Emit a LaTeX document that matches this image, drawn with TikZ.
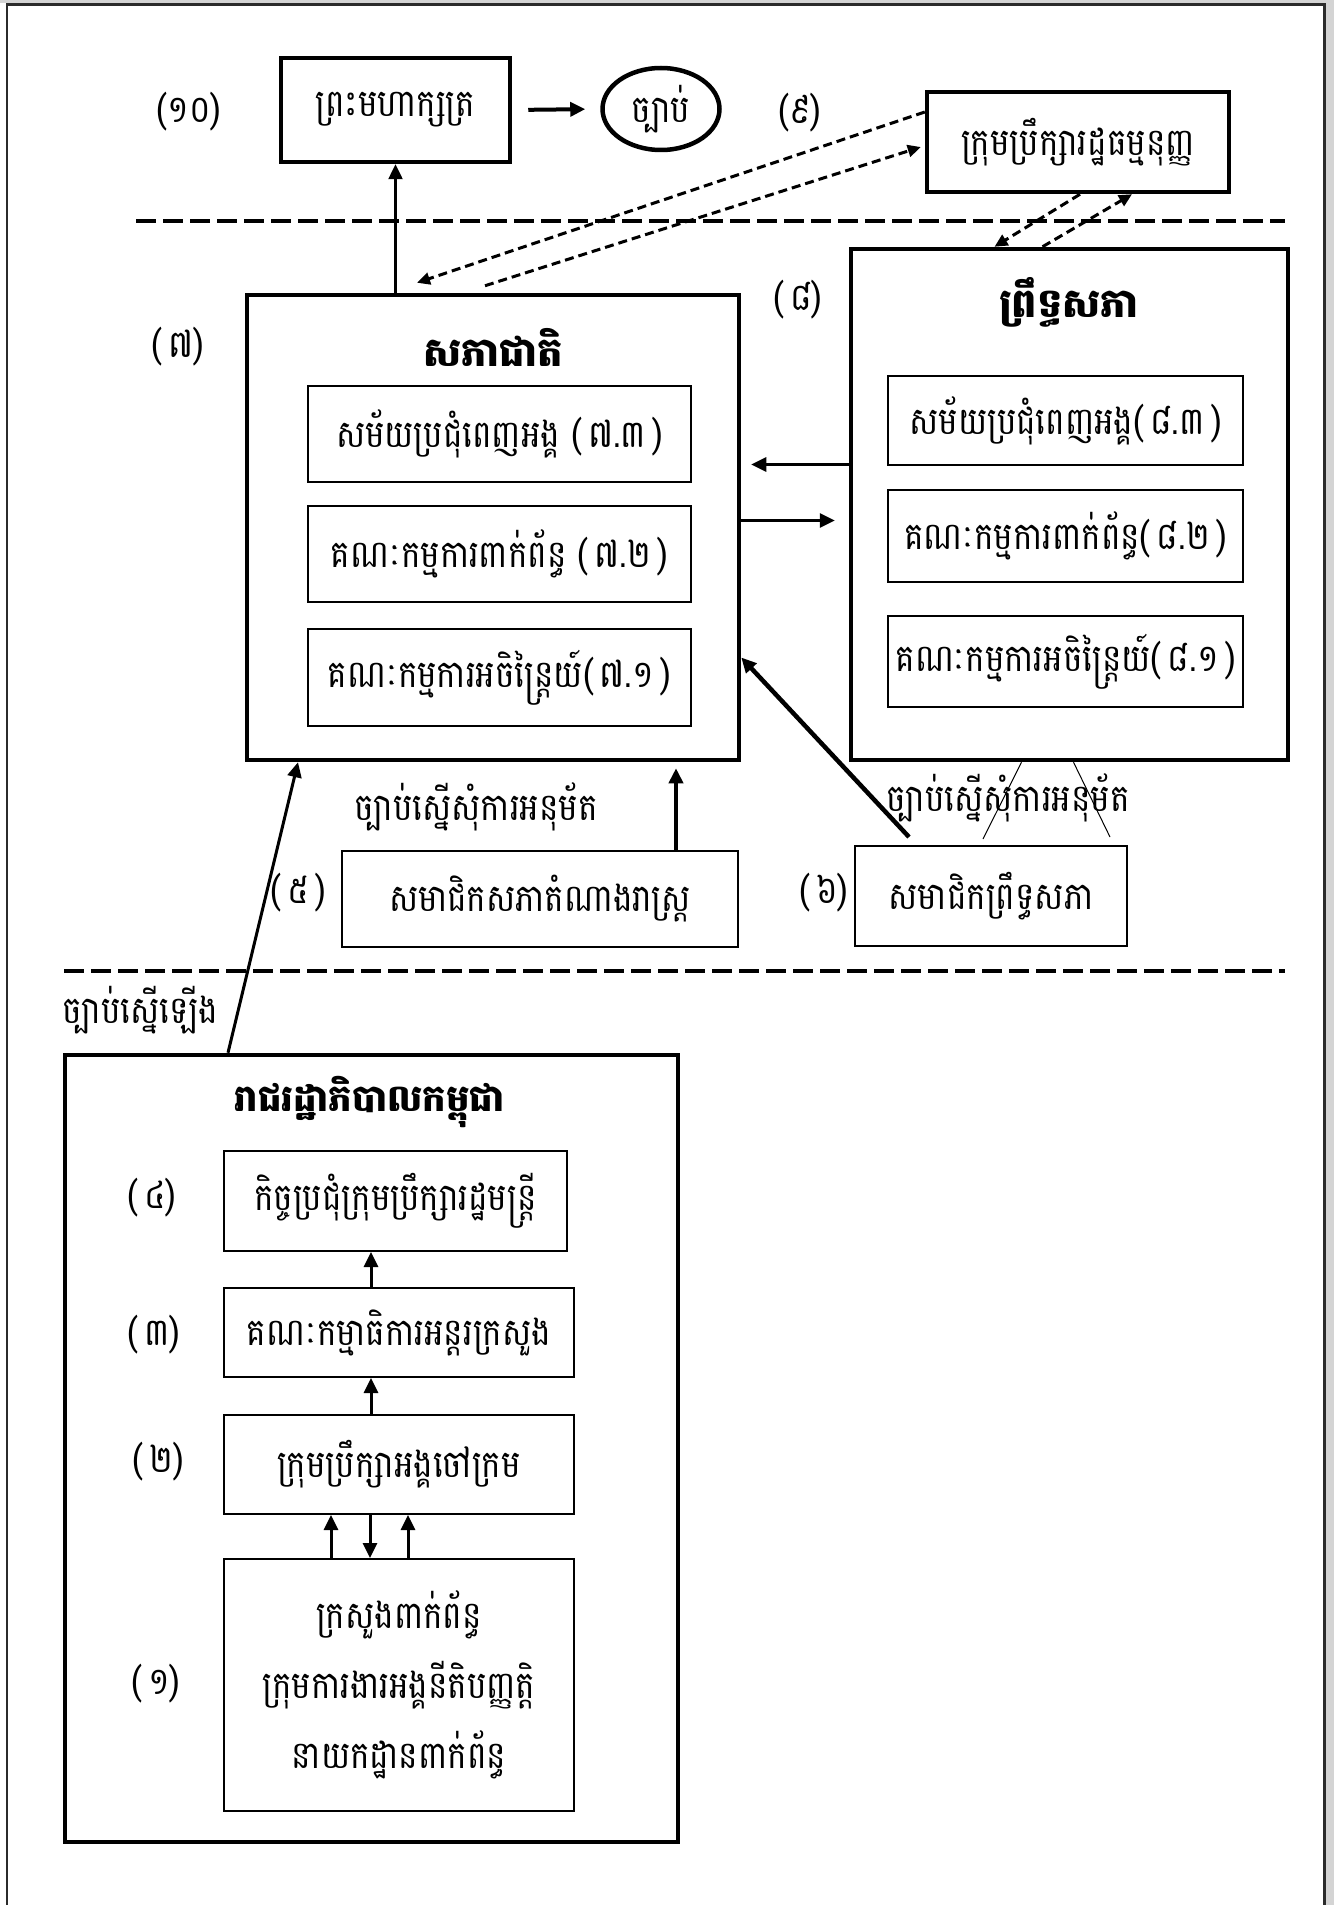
\documentclass[tikz,border=0pt]{standalone}
\usepackage{fontspec}
\usepackage{tikz}
\usetikzlibrary{arrows.meta,shapes.geometric}
\setmainfont[Script=Khmer, FakeStretch=0.86]{Battambang}
\newfontfamily\titlefont[Script=Khmer]{Battambang}
\definecolor{framegray}{HTML}{2B2B2B}
\definecolor{bandgray}{HTML}{D4D4D4}

\begin{document}
\begin{tikzpicture}[x=1pt, y=-1pt,
  bigbox/.style={rectangle, draw, line width=4.5pt, inner sep=0pt, font=\fontsize{38}{46}\selectfont},
  subbox/.style={rectangle, draw, line width=2pt, inner sep=0pt, font=\fontsize{38}{46}\selectfont},
  titletext/.style={font=\titlefont\fontsize{40}{48}\selectfont\bfseries},
  numtext/.style={font=\fontsize{38}{46}\selectfont},
  notetext/.style={font=\fontsize{38}{46}\selectfont},
  arrow/.style={-{Triangle[length=15pt,width=14pt]}, line width=3pt},
  dasharrow/.style={-{Triangle[length=13pt,width=12pt]}, line width=3pt, dash pattern=on 9pt off 5pt},
  sepline/.style={line width=4pt, dash pattern=on 20pt off 7pt},
]
  \useasboundingbox (0,0) rectangle (1334,1905);
  \fill[white] (0,0) rectangle (1334,1905);
  \fill[bandgray] (0,0) rectangle (1334,3);
  \fill[bandgray] (1326,0) rectangle (1334,1905);
  \draw[framegray, line width=2.5pt] (7,1905) -- (7,4.5) -- (1324.5,4.5) -- (1324.5,1905);

  % top row
  \node[bigbox, minimum width=229pt, minimum height=104pt] (king) at (395.5,110) {ព្រះមហាក្សត្រ};
  \node[ellipse, draw, line width=4.5pt, minimum width=117pt, minimum height=82pt, inner sep=0pt, font=\fontsize{38}{46}\selectfont] (law) at (661,109) {ច្បាប់};
  \node[bigbox, minimum width=302pt, minimum height=100pt] (cc) at (1078,142) {ក្រុមប្រឹក្សារដ្ឋធម្មនុញ្ញ};
  \node[numtext] (n10) at (189,112) {(១០)};
  \node[numtext] (n9) at (800,113) {(៩)};
  \draw[sepline] (136,221) -- (1285,221);

  % national assembly
  \node[bigbox, minimum width=492pt, minimum height=465pt] (na) at (493,527.5) {};
  \node[titletext] (natitle) at (493,347) {សភាជាតិ};
  \node[subbox, minimum width=383pt, minimum height=96pt] (na3) at (499.5,434) {សម័យប្រជុំពេញអង្គ (\,៧.៣\,)};
  \node[subbox, minimum width=383pt, minimum height=96pt] (na2) at (499.5,554) {គណៈកម្មការពាក់ព័ន្ធ (\,៧.២\,)};
  \node[subbox, minimum width=383pt, minimum height=97pt] (na1) at (499.5,677.5) {គណៈកម្មការអចិន្ត្រៃយ៍(\,៧.១\,)};
  \node[numtext] (n7) at (178,347) {(\,៧)};

  % senate
  \node[bigbox, minimum width=437pt, minimum height=511pt] (senate) at (1069.5,504.5) {};
  \node[titletext] (setitle) at (1069,302) {ព្រឹទ្ធសភា};
  \node[subbox, minimum width=355pt, minimum height=89pt] (se3) at (1065.5,420.5) {សម័យប្រជុំពេញអង្គ(\,៨.៣\,)};
  \node[subbox, minimum width=355pt, minimum height=92pt] (se2) at (1065.5,536) {គណៈកម្មការពាក់ព័ន្ធ(\,៨.២\,)};
  \node[subbox, minimum width=355pt, minimum height=91pt] (se1) at (1065.5,661.5) {គណៈកម្មការអចិន្ត្រៃយ៍(\,៨.១\,)};
  \node[numtext] (n8) at (798,300) {(\,៨)};

  % members
  \node[subbox, minimum width=396pt, minimum height=96pt] (five) at (540,899) {សមាជិកសភាតំណាងរាស្ត្រ};
  \node[numtext] (n5) at (298,893) {(\,៥\,)};
  \node[notetext] (askleft) at (476,807) {ច្បាប់ស្នើសុំការអនុម័ត};
  \node[subbox, minimum width=272pt, minimum height=100pt] (six) at (991,896) {សមាជិកព្រឹទ្ធសភា};
  \node[numtext] (n6) at (824,893) {(\,៦)};
  \node[notetext] (askright) at (1008,798) {ច្បាប់ស្នើសុំការអនុម័ត};
  \draw[sepline] (64,971) -- (1285,971);
  \node[notetext] (propose) at (140,1010) {ច្បាប់ស្នើឡើង};

  % government
  \node[bigbox, minimum width=613pt, minimum height=787pt] (gov) at (371.5,1448.5) {};
  \node[titletext, font=\titlefont\fontsize{37}{45}\selectfont\bfseries] (govtitle) at (370,1102) {រាជរដ្ឋាភិបាលកម្ពុជា};
  \node[subbox, minimum width=343pt, minimum height=100pt] (g4) at (395.5,1201) {កិច្ចប្រជុំក្រុមប្រឹក្សារដ្ឋមន្ត្រី};
  \node[subbox, minimum width=350pt, minimum height=89pt] (g3) at (399,1332.5) {គណៈកម្មាធិការអន្តរក្រសួង};
  \node[subbox, minimum width=350pt, minimum height=99pt] (g2) at (399,1464.5) {ក្រុមប្រឹក្សាអង្គចៅក្រម};
  \node[subbox, minimum width=350pt, minimum height=252pt, align=center, font=\fontsize{38}{70}\selectfont] (g1) at (399,1685) {ក្រសួងពាក់ព័ន្ធ\\ក្រុមការងារអង្គនីតិបញ្ញត្តិ\\នាយកដ្ឋានពាក់ព័ន្ធ};
  \node[numtext] (n4) at (152,1198) {(\,៤)};
  \node[numtext] (n3) at (154,1335) {(\,៣)};
  \node[numtext] (n2) at (158,1462) {(\,២)};
  \node[numtext] (n1) at (156,1684) {(\,១)};

  % connectors
  \draw[arrow, line width=2.5pt] (king.south |- na.north) -- (king.south);
  \draw[arrow, line width=4pt, shorten <=16pt, shorten >=15pt] (king.east) -- (law.west);
  \draw[dasharrow] ([yshift=30pt]cc.west) -- ([xshift=-76pt,yshift=10pt]na.north);
  \draw[dasharrow] ([xshift=-8pt,yshift=7pt]na.north) -- ([xshift=-4pt,yshift=-5pt]cc.west);
  \draw[dasharrow] ([xshift=2pt]cc.south) -- ([xshift=-75pt]senate.north);
  \draw[dasharrow] ([xshift=-27pt]senate.north) -- ([xshift=54pt]cc.south);
  \draw[arrow, shorten >=10pt] ([yshift=40pt]senate.west) -- ([yshift=40pt]senate.west -| na.east);
  \draw[arrow, shorten >=14pt] ([yshift=-16pt]senate.west -| na.east) -- ([yshift=-16pt]senate.west);
  \draw[arrow, line width=4pt, shorten >=6pt] ([xshift=136pt]five.north) -- ([xshift=136pt]five.north |- na.south);
  \draw[arrow, line width=4.5pt] ([xshift=-82pt,yshift=8pt]six.north) -- ([yshift=-130pt]na.east);
  \draw[line width=1pt] ([xshift=-48pt]senate.south) -- ([xshift=-8pt,yshift=6pt]six.north);
  \draw[line width=1pt] ([xshift=4pt]senate.south) -- ([xshift=119pt,yshift=8pt]six.north);
  \draw[arrow] ([xshift=-143.5pt]gov.north) -- ([xshift=-195pt]na.south);
  \draw[arrow] ([xshift=-28pt]g3.north) -- ([xshift=-28pt]g3.north |- g4.south);
  \draw[arrow] ([xshift=-28pt]g2.north) -- ([xshift=-28pt]g2.north |- g3.south);
  \draw[arrow] ([xshift=-68pt]g1.north) -- ([xshift=-68pt]g1.north |- g2.south);
  \draw[arrow] ([xshift=-29pt]g2.south) -- ([xshift=-29pt]g2.south |- g1.north);
  \draw[arrow] ([xshift=9pt]g1.north) -- ([xshift=9pt]g1.north |- g2.south);
\end{tikzpicture}
\end{document}
